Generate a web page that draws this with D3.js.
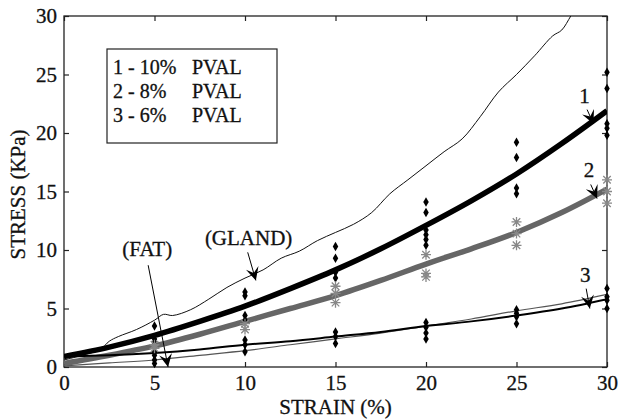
<!DOCTYPE html>
<html>
<head>
<meta charset="utf-8">
<script src="https://cdn.jsdelivr.net/npm/d3@7"></script>
<style>
  body { margin: 0; background: #fff; }
  svg { display: block; }
  text { font-family: "Liberation Serif", "Times New Roman", Times, "Noto Serif", "DejaVu Serif", "FreeSerif", "Nimbus Roman", "Noto Serif CJK SC", serif; fill: #111; stroke: #111; stroke-width: 0.3px; }
</style>
</head>
<body>
<svg id="chart" width="618" height="419"></svg>
<script>
// strain grid for the fitted curves (%)
var strainGrid = [0, 2.5, 5, 7.5, 10, 12.5, 15, 17.5, 20, 22.5, 25, 27.5, 30];
// fitted stress curves (KPa)
var fit10 = [0.9, 1.7, 2.7, 3.9, 5.2, 6.7, 8.3, 10.1, 12.1, 14.2, 16.5, 19.1, 21.9];
var fit8  = [0.3, 1.0, 1.8, 2.8, 3.9, 5.0, 6.1, 7.4, 8.8, 10.1, 11.5, 13.2, 15.2];
var fit6  = [0.9, 1.0, 1.2, 1.5, 1.9, 2.2, 2.6, 3.0, 3.5, 3.9, 4.4, 5.0, 5.8];
var fatCurve = [0.1, 0.35, 0.6, 1.0, 1.4, 1.9, 2.4, 2.9, 3.5, 4.1, 4.8, 5.4, 6.2];

// measured gland tissue curve
var glandStrain = [0, 1, 2, 2.5, 3, 4, 5, 5.5, 6, 7, 8, 9, 10, 11, 12, 13, 14, 15, 16, 17, 18, 19, 20, 21, 22, 23, 24, 25, 26, 27, 27.5, 28, 28.4];
var glandStress = [0.6, 1.0, 1.5, 2.2, 2.6, 3.2, 4.0, 4.5, 4.4, 4.9, 5.8, 6.8, 7.6, 8.3, 9.3, 9.9, 10.8, 11.5, 12.2, 13.2, 14.8, 16.0, 17.2, 18.4, 19.5, 21.4, 23.5, 25.0, 26.6, 28.3, 28.8, 30.0, 31.0];

// experimental points, by strain level
var sampleStrain = [5, 10, 15, 20, 25, 30];
var pts10 = [[3.5, 2.4, 2.1], [6.4, 6.1, 4.4, 4.0], [10.3, 9.3, 8.1, 7.6], [14.1, 13.2, 11.7, 11.3, 10.9, 10.4], [19.2, 17.9, 15.3, 14.8], [25.2, 23.8, 20.8, 20.4, 19.8]];
var pts8  = [[1.9, 1.6], [3.7, 3.2], [6.9, 6.3, 5.5], [9.6, 8.0, 7.7], [12.4, 11.4, 10.4], [16.0, 15.0, 14.0]];
var pts6  = [[1.3, 1.0, 0.6, 0.3], [2.3, 1.9, 1.3], [3.0, 2.6, 2.0], [3.8, 3.4, 2.9, 2.4], [4.9, 4.6, 4.3, 3.7], [6.7, 6.0, 5.7, 5.0]];

var xTicks = [0, 5, 10, 15, 20, 25, 30];
var yTicks = [0, 5, 10, 15, 20, 25, 30];
var legendLines = [["1 - 10%", "PVAL"], ["2 - 8%", "PVAL"], ["3 - 6%", "PVAL"]];

var width = 618, height = 419;
var margin = {top: 16, right: 11, bottom: 52, left: 64};

var svg = d3.select("#chart");
var x = d3.scaleLinear().domain([0, 30]).range([margin.left, width - margin.right]);
var y = d3.scaleLinear().domain([0, 30]).range([height - margin.bottom, margin.top]);

var defs = svg.append("defs");
defs.append("clipPath").attr("id", "plotclip")
  .append("rect")
  .attr("x", x(0)).attr("y", y(30))
  .attr("width", x(30) - x(0)).attr("height", y(0) - y(30));

defs.append("marker")
  .attr("id", "head").attr("viewBox", "0 0 10 10")
  .attr("refX", 10).attr("refY", 5)
  .attr("markerWidth", 15).attr("markerHeight", 13)
  .attr("markerUnits", "userSpaceOnUse")
  .attr("orient", "auto")
  .append("path").attr("d", "M0,0 L10,5 L0,10 L4,5 Z").attr("fill", "#000");

// axes with inside ticks
var tsize = 5;
svg.append("g").attr("class", "axis")
  .attr("transform", "translate(0," + y(0) + ")")
  .call(d3.axisBottom(x).tickValues(xTicks).tickSizeInner(-tsize).tickSizeOuter(0).tickPadding(8));
svg.append("g").attr("class", "axis")
  .attr("transform", "translate(0," + y(30) + ")")
  .call(d3.axisTop(x).tickValues(xTicks).tickSizeInner(-tsize).tickSizeOuter(0).tickFormat(""));
svg.append("g").attr("class", "axis")
  .attr("transform", "translate(" + x(0) + ",0)")
  .call(d3.axisLeft(y).tickValues(yTicks).tickSizeInner(-tsize).tickSizeOuter(0).tickPadding(7));
svg.append("g").attr("class", "axis")
  .attr("transform", "translate(" + x(30) + ",0)")
  .call(d3.axisRight(y).tickValues(yTicks).tickSizeInner(-tsize).tickSizeOuter(0).tickFormat(""));

svg.selectAll(".axis .domain").remove();
svg.selectAll(".axis line").attr("stroke", "#222").attr("stroke-width", 1.2);
svg.selectAll(".axis text")
  .attr("font-size", 21)
  .attr("fill", "#111");

svg.append("rect")
  .attr("x", x(0)).attr("y", y(30))
  .attr("width", x(30) - x(0)).attr("height", y(0) - y(30))
  .attr("fill", "none").attr("stroke", "#222").attr("stroke-width", 1.3);

// axis titles
svg.append("text")
  .attr("x", (x(0) + x(30)) / 2).attr("y", 414)
  .attr("text-anchor", "middle").attr("font-size", 21)
  .text("STRAIN (%)");
svg.append("text")
  .attr("transform", "translate(25," + (y(15) + 3) + ") rotate(-90)")
  .attr("text-anchor", "middle").attr("font-size", 21)
  .text("STRESS (KPa)");

var plot = svg.append("g").attr("clip-path", "url(#plotclip)");

var line = d3.line()
  .x(function(d) { return x(d[0]); })
  .y(function(d) { return y(d[1]); })
  .curve(d3.curveCatmullRom.alpha(0.5));
var smooth = d3.line()
  .x(function(d) { return x(d[0]); })
  .y(function(d) { return y(d[1]); })
  .curve(d3.curveMonotoneX);

function zipPts(xs, ys) { return xs.map(function(v, i) { return [v, ys[i]]; }); }

// gland and fat tissue curves
plot.append("path").attr("d", line(zipPts(glandStrain, glandStress)))
  .attr("fill", "none").attr("stroke", "#111").attr("stroke-width", 1);
plot.append("path").attr("d", smooth(zipPts(strainGrid, fatCurve)))
  .attr("fill", "none").attr("stroke", "#555").attr("stroke-width", 1.2);

// fitted curves
plot.append("path").attr("d", smooth(zipPts(strainGrid, fit8)))
  .attr("fill", "none").attr("stroke", "#666").attr("stroke-width", 5.5);
plot.append("path").attr("d", smooth(zipPts(strainGrid, fit10)))
  .attr("fill", "none").attr("stroke", "#000").attr("stroke-width", 5.5);
plot.append("path").attr("d", smooth(zipPts(strainGrid, fit6)))
  .attr("fill", "none").attr("stroke", "#000").attr("stroke-width", 2);

// data points
function flatPts(sets) {
  var out = [];
  sets.forEach(function(vals, i) {
    vals.forEach(function(v) { out.push([sampleStrain[i], v]); });
  });
  return out;
}
var diamond = d3.symbol().type(d3.symbolDiamond).size(26);
svg.append("g").selectAll("path")
  .data(flatPts(pts10).concat(flatPts(pts6)))
  .enter().append("path")
  .attr("transform", function(d) { return "translate(" + x(d[0]) + "," + y(d[1]) + ")"; })
  .attr("d", diamond())
  .attr("fill", "#000");

var ar = 5;
var star = "M" + (-ar) + ",0L" + ar + ",0M0," + (-ar) + "L0," + ar +
  "M" + (-ar * 0.75) + "," + (-ar * 0.75) + "L" + (ar * 0.75) + "," + (ar * 0.75) +
  "M" + (-ar * 0.75) + "," + (ar * 0.75) + "L" + (ar * 0.75) + "," + (-ar * 0.75);
svg.append("g").selectAll("path")
  .data(flatPts(pts8))
  .enter().append("path")
  .attr("transform", function(d) { return "translate(" + x(d[0]) + "," + y(d[1]) + ")"; })
  .attr("d", star)
  .attr("fill", "none").attr("stroke", "#888").attr("stroke-width", 1.3);

// annotations (data units)
var notes = [
  {text: "1", tx: 28.75, ty: 22.6, x1: 28.9, y1: 22.0, x2: 29.25, y2: 20.8},
  {text: "2", tx: 29.0, ty: 16.2, x1: 29.1, y1: 15.6, x2: 29.45, y2: 14.4},
  {text: "3", tx: 28.8, ty: 7.3, x1: 28.85, y1: 6.7, x2: 29.05, y2: 5.0},
  {text: "(GLAND)", tx: 10.2, ty: 10.4, x1: 10.15, y1: 9.8, x2: 10.6, y2: 7.4},
  {text: "(FAT)", tx: 4.6, ty: 9.5, x1: 4.65, y1: 8.7, x2: 5.75, y2: 0.0}
];
notes.forEach(function(n) {
  svg.append("text")
    .attr("x", x(n.tx)).attr("y", y(n.ty))
    .attr("text-anchor", "middle").attr("font-size", 21)
    .text(n.text);
  svg.append("line")
    .attr("x1", x(n.x1)).attr("y1", y(n.y1))
    .attr("x2", x(n.x2)).attr("y2", y(n.y2))
    .attr("stroke", "#000").attr("stroke-width", 1)
    .attr("marker-end", "url(#head)");
});

// legend box
var lg = svg.append("g");
lg.append("rect")
  .attr("x", 107).attr("y", 49).attr("width", 170).attr("height", 94)
  .attr("fill", "#fff").attr("stroke", "#222").attr("stroke-width", 1.2);
legendLines.forEach(function(l, i) {
  lg.append("text").attr("x", 113).attr("y", 74 + i * 24)
    .attr("font-size", 20).text(l[0]);
  lg.append("text").attr("x", 192).attr("y", 74 + i * 24)
    .attr("font-size", 20).text(l[1]);
});
</script>
</body>
</html>
